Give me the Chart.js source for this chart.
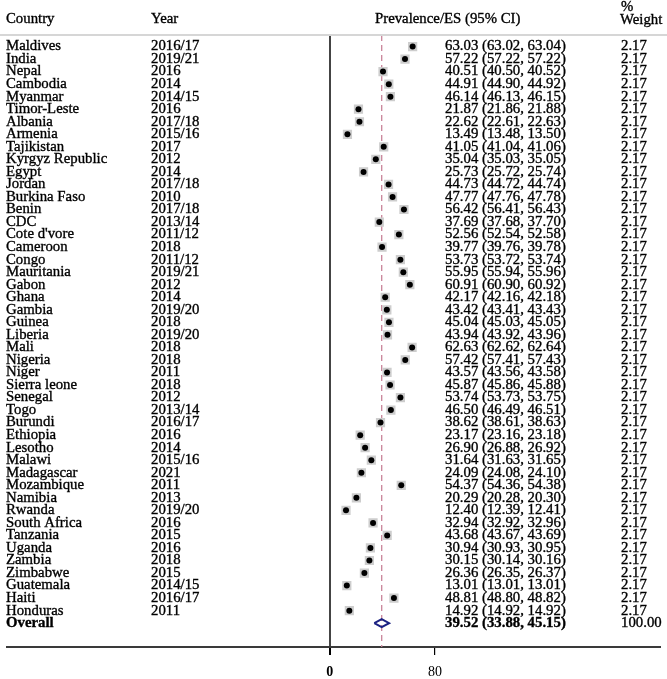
<!DOCTYPE html>
<html>
<head>
<meta charset="utf-8">
<script src="https://cdn.jsdelivr.net/npm/chart.js@4.4.1/dist/chart.umd.min.js"></script>
<style>
  html,body{margin:0;padding:0;background:#fff;}
  #wrap{width:667px;height:679px;position:relative;}
</style>
</head>
<body>
<div id="wrap"><canvas id="forest"></canvas></div>
<script>
// study rows, top to bottom
const countries=["Maldives","India","Nepal","Cambodia","Myanmar","Timor-Leste","Albania","Armenia","Tajikistan","Kyrgyz Republic","Egypt","Jordan","Burkina Faso","Benin","CDC","Cote d'vore","Cameroon","Congo","Mauritania","Gabon","Ghana","Gambia","Guinea","Liberia","Mali","Nigeria","Niger","Sierra leone","Senegal","Togo","Burundi","Ethiopia","Lesotho","Malawi","Madagascar","Mozambique","Namibia","Rwanda","South Africa","Tanzania","Uganda","Zambia","Zimbabwe","Guatemala","Haiti","Honduras"];
const years=["2016/17","2019/21","2016","2014","2014/15","2016","2017/18","2015/16","2017","2012","2014","2017/18","2010","2017/18","2013/14","2011/12","2018","2011/12","2019/21","2012","2014","2019/20","2018","2019/20","2018","2018","2011","2018","2012","2013/14","2016/17","2016","2014","2015/16","2021","2011","2013","2019/20","2016","2015","2016","2018","2015","2014/15","2016/17","2011"];
const prevalence=[63.03,57.22,40.51,44.91,46.14,21.87,22.62,13.49,41.05,35.04,25.73,44.73,47.77,56.42,37.69,52.56,39.77,53.73,55.95,60.91,42.17,43.42,45.04,43.94,62.63,57.42,43.57,45.87,53.74,46.50,38.62,23.17,26.90,31.64,24.09,54.37,20.29,12.40,32.94,43.68,30.94,30.15,26.36,13.01,48.81,14.92];
const ciLow=[63.02,57.22,40.50,44.90,46.13,21.86,22.61,13.48,41.04,35.03,25.72,44.72,47.76,56.41,37.68,52.54,39.76,53.72,55.94,60.90,42.16,43.41,45.03,43.92,62.62,57.41,43.56,45.86,53.73,46.49,38.61,23.16,26.88,31.63,24.08,54.36,20.28,12.39,32.92,43.67,30.93,30.14,26.35,13.01,48.80,14.92];
const ciHigh=[63.04,57.22,40.52,44.92,46.15,21.88,22.63,13.50,41.06,35.05,25.74,44.74,47.78,56.43,37.70,52.58,39.78,53.74,55.96,60.92,42.18,43.43,45.05,43.96,62.64,57.43,43.58,45.88,53.75,46.51,38.63,23.18,26.92,31.65,24.10,54.38,20.30,12.41,32.96,43.69,30.95,30.16,26.37,13.01,48.82,14.92];
const weights=[2.17,2.17,2.17,2.17,2.17,2.17,2.17,2.17,2.17,2.17,2.17,2.17,2.17,2.17,2.17,2.17,2.17,2.17,2.17,2.17,2.17,2.17,2.17,2.17,2.17,2.17,2.17,2.17,2.17,2.17,2.17,2.17,2.17,2.17,2.17,2.17,2.17,2.17,2.17,2.17,2.17,2.17,2.17,2.17,2.17,2.17];
const overall={label:"Overall",est:39.52,lo:33.88,hi:45.15,weight:"100.00"};
const xTicks=[0,80];
const headers=["Country","Year","Prevalence/ES (95% CI)","%","Weight"];

const overallRow=countries.length;
const yMin=-0.92, yMax=47.9;
const serif='"Liberation Serif","Times New Roman",serif';

const studyPts=prevalence.map((v,i)=>({x:v,y:i}));

function txt(ctx,s,x,y,bold){
    ctx.save();
    ctx.font=(bold?'bold ':'')+'14.8px '+serif;
    ctx.translate(x,y);
    ctx.lineWidth=0.35;
    ctx.strokeStyle='#000';
    ctx.fillText(s,0,0);
    ctx.strokeText(s,0,0);
    ctx.restore();
}

const tablePlugin={
    id:'forestTable',
    afterDraw(chart){
        const ctx=chart.ctx, ys=chart.scales.y, area=chart.chartArea;
        ctx.save();
        // header rule
        ctx.strokeStyle='#d6d6d6';
        ctx.lineWidth=2;
        ctx.beginPath();
        ctx.moveTo(0,area.top);
        ctx.lineTo(chart.width,area.top);
        ctx.stroke();
        ctx.fillStyle='#000';
        ctx.textBaseline='middle';
        ctx.textAlign='left';
        txt(ctx,headers[0],6,19);
        txt(ctx,headers[1],151,19);
        txt(ctx,headers[2],375,19);
        txt(ctx,headers[3],621,7);
        txt(ctx,headers[4],620,20);
        countries.forEach((c,i)=>{
            const y=ys.getPixelForValue(i);
            txt(ctx,c,6,y);
            txt(ctx,years[i],151,y);
            txt(ctx,prevalence[i].toFixed(2)+' ('+ciLow[i].toFixed(2)+', '+ciHigh[i].toFixed(2)+')',445,y);
            txt(ctx,weights[i].toFixed(2),621,y);
        });
        const yo=ys.getPixelForValue(overallRow);
        txt(ctx,overall.label,6,yo,true);
        txt(ctx,overall.est.toFixed(2)+' ('+overall.lo.toFixed(2)+', '+overall.hi.toFixed(2)+')',445,yo,true);
        txt(ctx,overall.weight,621,yo);
        ctx.restore();
    }
};

new Chart(document.getElementById('forest'),{
    type:'scatter',
    data:{
        datasets:[
            {
                data:studyPts,
                pointStyle:'circle',
                pointRadius:3,
                backgroundColor:'#000',
                borderWidth:0
            },
            {
                data:studyPts,
                pointStyle:'rect',
                pointRadius:6.5,
                backgroundColor:'#cdcdcd',
                borderWidth:0
            },
            {
                data:[
                    {x:overall.lo,y:overallRow},
                    {x:overall.est,y:overallRow-0.32},
                    {x:overall.hi,y:overallRow},
                    {x:overall.est,y:overallRow+0.32},
                    {x:overall.lo,y:overallRow}
                ],
                showLine:true,
                borderColor:'#1c2283',
                borderWidth:2,
                pointRadius:0,
                tension:0
            },
            {
                data:[{x:overall.est,y:yMin},{x:overall.est,y:yMax}],
                showLine:true,
                borderColor:'#c98399',
                borderWidth:1.3,
                borderDash:[6,4],
                pointRadius:0
            }
        ]
    },
    options:{
        responsive:true,
        maintainAspectRatio:false,
        animation:false,
        events:[],
        layout:{padding:{top:35,left:2,right:7,bottom:0}},
        plugins:{legend:{display:false},tooltip:{enabled:false}},
        scales:{
            x:{
                type:'linear',
                min:-245.6,
                max:251.0,
                afterBuildTicks:axis=>{axis.ticks=xTicks.map(v=>({value:v}));},
                afterFit:axis=>{axis.height=32;},
                border:{display:true,color:'#3a3a3a',width:2},
                grid:{
                    drawOnChartArea:true,
                    color:c=>c.tick && c.tick.value===0 ? '#444' : 'rgba(0,0,0,0)',
                    lineWidth:c=>c.tick && c.tick.value===0 ? 2 : 1.2,
                    tickColor:'#000',
                    tickLength:8
                },
                ticks:{
                    padding:9,
                    color:'#000',
                    font:c=>({family:serif,size:14,weight:c.tick && c.tick.value===0?'bold':'normal'})
                }
            },
            y:{
                type:'linear',
                reverse:true,
                min:yMin,
                max:yMax,
                display:false
            }
        }
    },
    plugins:[tablePlugin]
});
</script>
</body>
</html>
